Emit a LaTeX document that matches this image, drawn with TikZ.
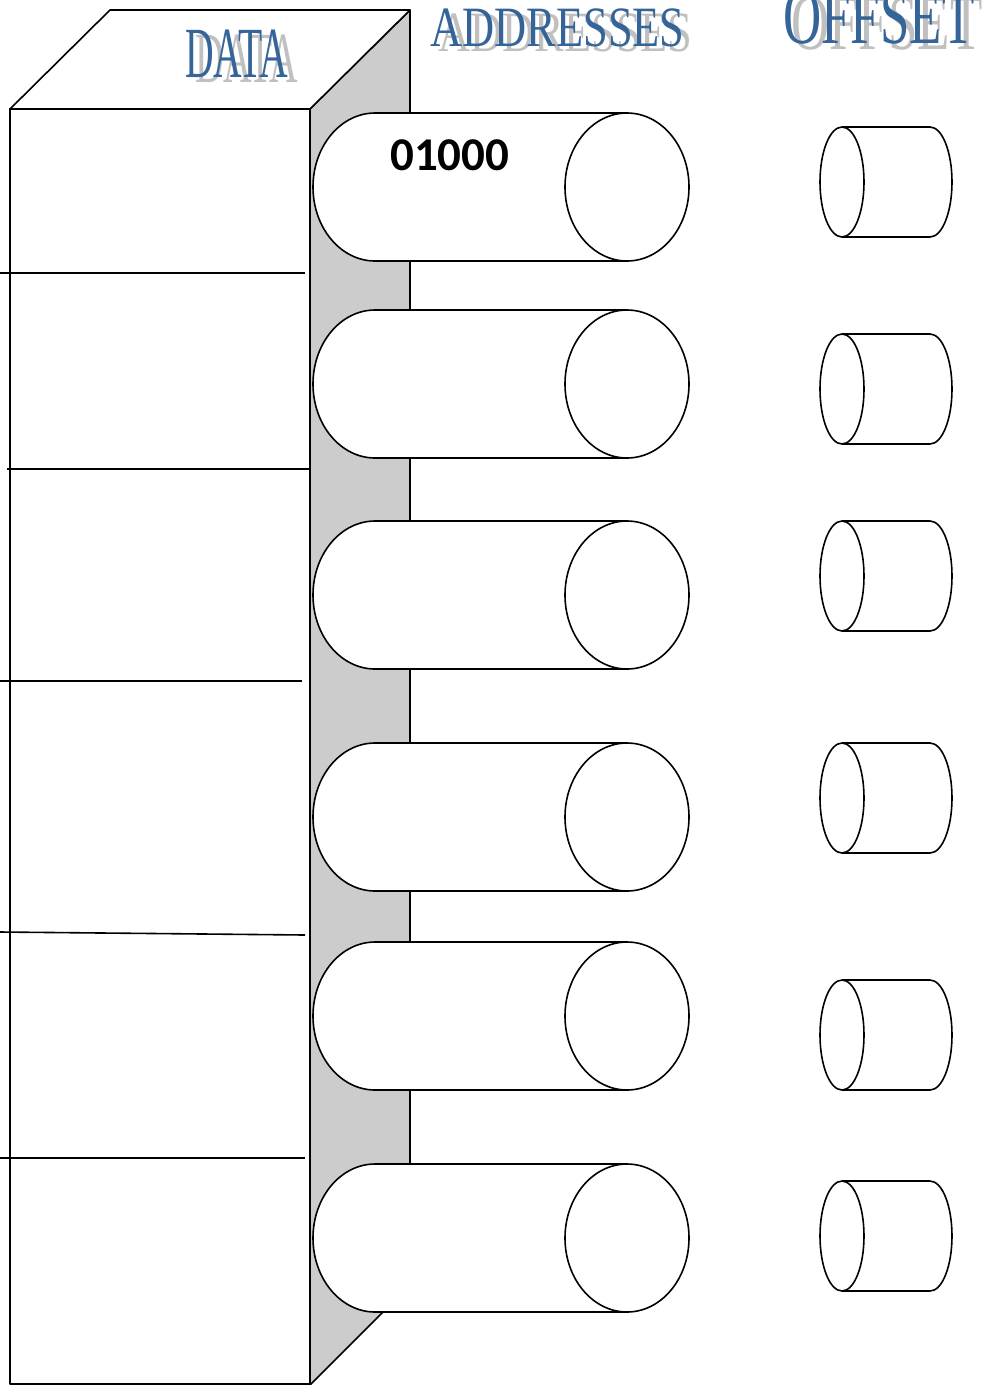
\documentclass[tikz,border=0pt]{standalone}
\usepackage{fontspec}
\usepackage{graphicx}
\setmainfont{Liberation Serif}
\newfontfamily\labfont{Carlito}
\definecolor{titleblue}{RGB}{52,100,152}
\definecolor{shadowgrey}{RGB}{192,192,192}
\definecolor{sidegrey}{RGB}{204,204,204}
\tikzset{
  outline/.style={draw=black,line width=1.6pt,line join=round},
  divline/.style={draw=black,line width=1.6pt},
  titletext/.style={inner sep=0pt,anchor=base west,text=titleblue},
  shadowtext/.style={inner sep=0pt,anchor=base west,text=shadowgrey},
}
\newcommand{\addrcyl}[1]{%
  \path[outline,fill=white] (627,#1-74) -- (375,#1-74)
     arc[start angle=270,end angle=90,x radius=62,y radius=74] -- (627,#1+74);
  \path[outline,fill=white] (627,#1) ellipse[x radius=62,y radius=74];
}
\newcommand{\offcyl}[1]{%
  \path[outline,fill=white] (842,#1-55) -- (930,#1-55)
     arc[start angle=-90,end angle=90,x radius=22,y radius=55] -- (842,#1+55);
  \path[outline,fill=white] (842,#1) ellipse[x radius=22,y radius=55];
}
\begin{document}
\begin{tikzpicture}[x=1pt,y=-1pt]
\useasboundingbox (0,0) rectangle (989,1385);
\clip (0,0) rectangle (989,1385);
% box
\path[outline,fill=sidegrey] (310,109) -- (410,10) -- (410,1285) -- (310,1385) -- cycle;
\path[outline,fill=white] (10,109) -- (110,10) -- (410,10) -- (310,109) -- cycle;
\path[outline,fill=white] (10,109) rectangle (310,1384);
\draw[divline] (0,273) -- (305,273);
\draw[divline] (7,469) -- (310,469);
\draw[divline] (0,681) -- (302,681);
\draw[divline] (0,932) -- (305,935);
\draw[divline] (0,1158) -- (305,1158);
% address cylinders
\addrcyl{187}
\addrcyl{384}
\addrcyl{595}
\addrcyl{817}
\addrcyl{1016}
\addrcyl{1238}
% offset cylinders
\offcyl{182}
\offcyl{389}
\offcyl{576}
\offcyl{798}
\offcyl{1035}
\offcyl{1236}
% label
\node[inner sep=0pt,anchor=base west] (lab) at (390,170) {\labfont\bfseries\fontsize{47}{47}\selectfont 01000};
% titles
\node[shadowtext] (datas) at (195,82) {\scalebox{0.55}[1]{\fontsize{72}{72}\selectfont DATA}};
\node[titletext] (data) at (185,77) {\scalebox{0.55}[1]{\fontsize{72}{72}\selectfont DATA}};
\node[shadowtext] (addrs) at (438,51) {\scalebox{0.78}[1]{\fontsize{57}{57}\selectfont ADDRESSES}};
\node[titletext] (addr) at (430,46) {\scalebox{0.78}[1]{\fontsize{57}{57}\selectfont ADDRESSES}};
\node[shadowtext] (offs) at (791,49) {\scalebox{0.67}[1]{\fontsize{79}{79}\selectfont OFFSET}};
\node[titletext] (off) at (783,43) {\scalebox{0.67}[1]{\fontsize{79}{79}\selectfont OFFSET}};
\end{tikzpicture}
\end{document}
